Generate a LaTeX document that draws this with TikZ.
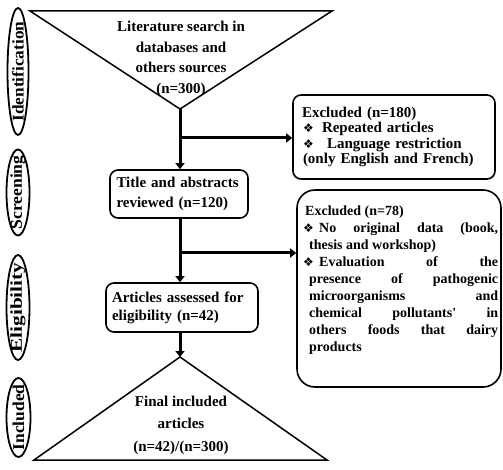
\documentclass[tikz,border=0pt]{standalone}
\usepackage{fontspec}
\setmainfont{Liberation Serif}
\newfontfamily\dvfont{DejaVu Sans}
\usetikzlibrary{shapes.geometric,arrows.meta}
\newcommand\bul{{\dvfont\fontsize{12}{12}\selectfont\char"2756}}
\begin{document}
\begin{tikzpicture}[x=1pt,y=-1pt,
  box/.style={draw,line width=1.6pt,rounded corners=8pt,inner sep=0pt},
  tri/.style={draw,line width=1.5pt,line join=miter},
  arr/.style={line width=3pt,-{Triangle[length=6pt,width=9pt]}},
  stagetxt/.style={inner sep=0pt,rotate=90,font=\fontsize{18}{18}\selectfont\bfseries},
  stageline/.style={draw,line width=1.8pt},
  plain/.style={inner sep=0pt,align=center}
]
\useasboundingbox (0,0) rectangle (503,470);
% triangles
\coordinate (t1apex) at (180,109);
\coordinate (t2apex) at (180,357);
\draw[tri] (30,11) -- (332,11) -- (t1apex) -- cycle;
\draw[tri] (t2apex) -- (327,460) -- (34,460) -- cycle;
\node[plain,font=\fontsize{15}{20.5}\selectfont\bfseries] (lit) at (181,59)
  {Literature search in\\databases and\\others sources\\(n=300)};
\node[plain,font=\fontsize{15}{22.5}\selectfont\bfseries] (final) at (181,425)
  {Final included\\articles\\(n=42)/(n=300)};
% stage ellipses
\node[stagetxt] (sid) at (18,71.5) {\resizebox{100pt}{11.5pt}{Identification}};
\draw[stageline] (sid.center) ellipse [x radius=10.5pt, y radius=63.5pt];
\node[stagetxt] (sscr) at (18,192.5) {\resizebox{74pt}{11.5pt}{Screening}};
\draw[stageline] (sscr.center) ellipse [x radius=11.5pt, y radius=43pt];
\node[stagetxt] (selig) at (18,307.5) {\resizebox{90pt}{11.5pt}{Eligibility}};
\draw[stageline] (selig.center) ellipse [x radius=11.5pt, y radius=52.5pt];
\node[stagetxt] (sinc) at (18.5,417.5) {\resizebox{66pt}{11.5pt}{Included}};
\draw[stageline] (sinc.center) ellipse [x radius=12pt, y radius=39.5pt];
% boxes
\node[box,minimum width=138pt,minimum height=48pt,text width=125pt,align=left,
  font=\fontsize{15}{20}\selectfont\bfseries] (title) at (179,194)
  {\makebox[125pt][s]{Title and abstracts}\\reviewed (n=120)};
\node[box,minimum width=152pt,minimum height=49pt,text width=140pt,align=left,
  font=\fontsize{15}{18}\selectfont\bfseries] (elig) at (182,307.5)
  {\makebox[140pt][s]{Articles assessed for}\\eligibility (n=42)};
\node[box,minimum width=202pt,minimum height=84pt,text width=194pt,align=left,
  font=\fontsize{15}{15.5}\selectfont\bfseries] (ex1) at (394,137)
  {\hspace*{5pt}Excluded (n=180)\\
   \hspace*{6pt}\makebox[19pt][l]{\bul}Repeated articles\\
   \hspace*{6pt}\makebox[24pt][l]{\bul}Language restriction\\
   \hspace*{6pt}\makebox[187pt][s]{(only English and French)}};
\node[box,rounded corners=18pt,minimum width=204pt,minimum height=197pt] (ex2) at (399,288.5) {};
\node[anchor=north west,inner sep=0pt,align=left,
  font=\fontsize{14}{17}\selectfont\bfseries] (ex2txt) at (303,206)
  {\hspace*{2pt}Excluded (n=78)\\
   \makebox[16pt][l]{\bul}\makebox[179pt][s]{No original data (book,}\\
   \hspace*{6pt}thesis and workshop)\\
   \makebox[16pt][l]{\bul}\makebox[179pt][s]{Evaluation of the}\\
   \hspace*{6pt}\makebox[189pt][s]{presence of pathogenic}\\
   \hspace*{6pt}\makebox[189pt][s]{microorganisms and}\\
   \hspace*{6pt}\makebox[189pt][s]{chemical pollutants\textquotesingle{} in}\\
   \hspace*{6pt}\makebox[189pt][s]{others foods that dairy}\\
   \hspace*{6pt}products};
% connectors
\coordinate (b1) at (180,138);
\coordinate (b2) at (180,253);
\draw[arr] (t1apex) -- (t1apex |- title.north);
\draw[arr] (b1) -- (b1 -| ex1.west);
\draw[arr] (b1 |- title.south) -- (b1 |- elig.north);
\draw[arr] (b2) -- (b2 -| ex2.west);
\draw[arr] (b1 |- elig.south) -- (t2apex);
\end{tikzpicture}
\end{document}
